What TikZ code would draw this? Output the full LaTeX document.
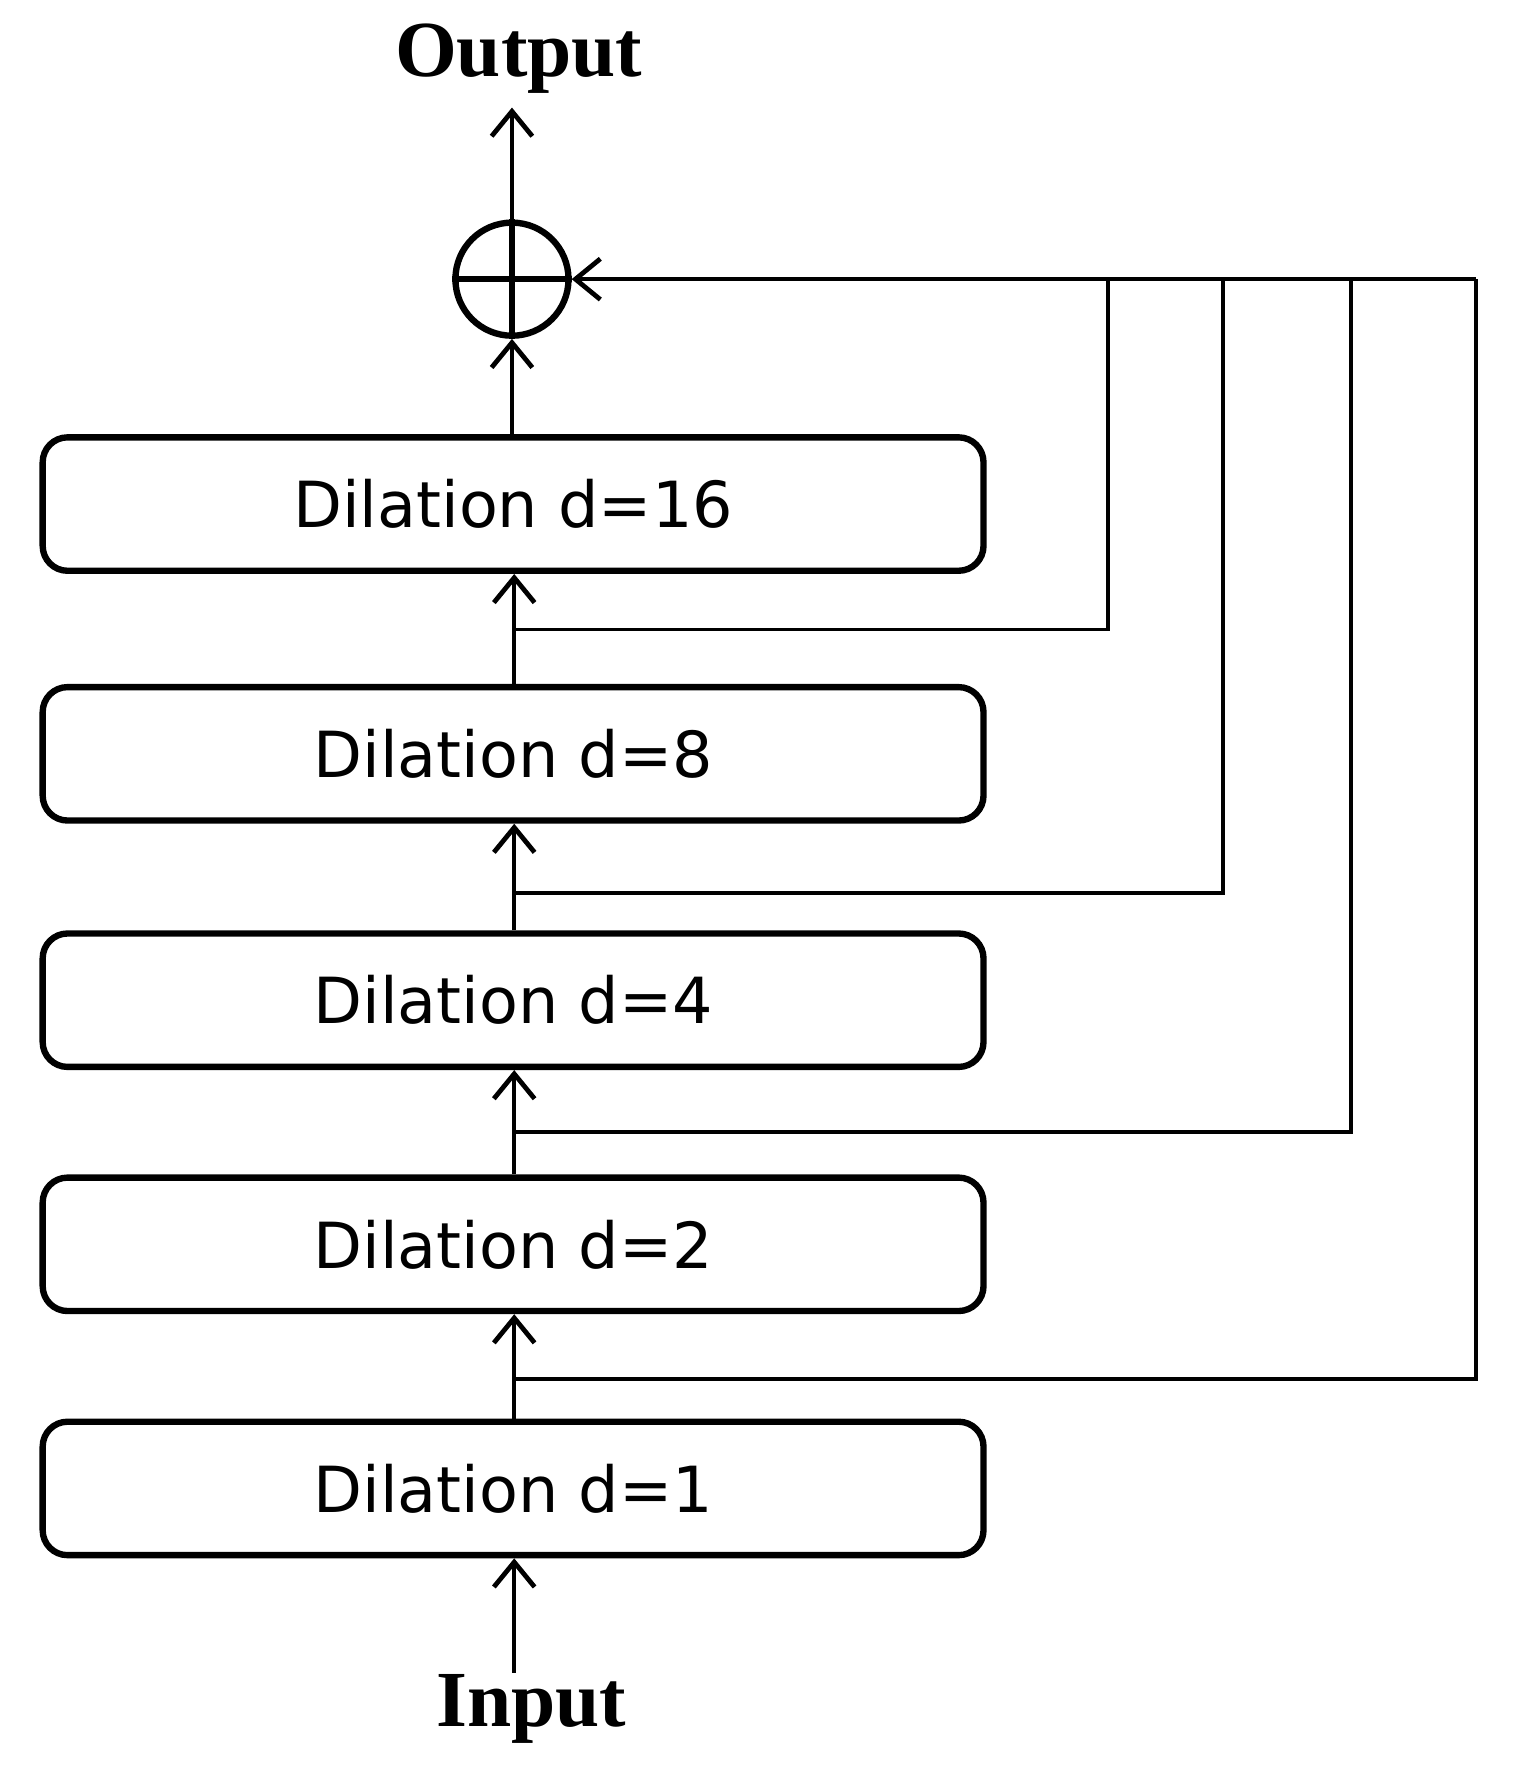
\documentclass[tikz,border=0pt]{standalone}
\usepackage{fontspec}
\setmainfont{Liberation Serif}
\newfontfamily\boxfont{DejaVu Sans}
\usetikzlibrary{arrows.meta}
\begin{document}
\begin{tikzpicture}[x=0.01cm,y=-0.01cm,
  dbox/.style={draw,line width=1.6pt,rounded corners=0.22cm,minimum width=8.32cm,minimum height=1.18cm,font=\boxfont\fontsize{16}{19}\selectfont},
  conn/.style={line width=1pt},
  arr/.style={conn,-{Straight Barb[length=0.22cm,width=0.36cm,line width=1.2pt]}},
  lbl/.style={font=\bfseries\fontsize{20}{24}\selectfont}]
\useasboundingbox (0,0) rectangle (1352,1575);
\node[dbox] (b16) at (454,446) {Dilation d=16};
\node[dbox] (b8) at (454,667) {Dilation d=8};
\node[dbox] (b4) at (454,885) {Dilation d=4};
\node[dbox] (b2) at (454,1101) {Dilation d=2};
\node[dbox] (b1) at (454,1317) {Dilation d=1};
\node[draw,circle,line width=1.6pt,minimum size=1.0cm,inner sep=0] (sum) at (453,247) {};
\draw[line width=1.6pt] (sum.north) -- (sum.south) (sum.west) -- (sum.east);
\node[lbl] (out) at (459,52) {Output};
\node[lbl] (in) at (470,1512) {Input};
\coordinate (inS) at (455,1480);
\draw[arr] (inS) -- (b1.south -| inS);
\draw[arr] (b1.north -| inS) -- (b2.south -| inS);
\draw[arr] (b2.north -| inS) -- (b4.south -| inS);
\draw[arr] (b4.north -| inS) -- (b8.south -| inS);
\draw[arr] (b8.north -| inS) -- (b16.south -| inS);
\draw[arr] (b16.north -| sum) -- (sum.south);
\draw[arr] (sum.north) -- (sum.north |- out.south);
\coordinate (r1) at (1306,1220);
\coordinate (r2) at (1195,1002);
\coordinate (r3) at (1082,790);
\coordinate (r4) at (980,557);
\draw[conn] (inS |- r1) -- (r1) -- (r1 |- sum);
\draw[conn] (inS |- r2) -- (r2) -- (r2 |- sum);
\draw[conn] (inS |- r3) -- (r3) -- (r3 |- sum);
\draw[conn] (inS |- r4) -- (r4) -- (r4 |- sum);
\draw[arr] (r1 |- sum) -- (sum.east);
\end{tikzpicture}
\end{document}
